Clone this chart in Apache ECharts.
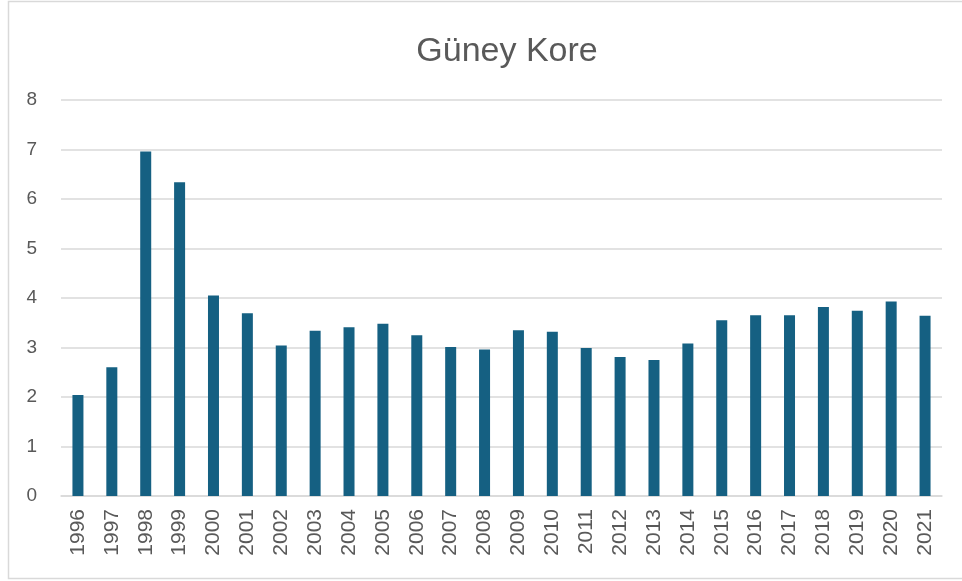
<!DOCTYPE html>
<html>
<head>
<meta charset="utf-8">
<script src="https://cdn.jsdelivr.net/npm/echarts@6/dist/echarts.min.js"></script>
<style>
  html, body { margin: 0; padding: 0; background: #fff; }
  #chart { width: 962px; height: 581px; }
</style>
</head>
<body>
<div id="chart"></div>
<script>
// yıllar
var years = ['1996', '1997', '1998', '1999', '2000', '2001', '2002', '2003', '2004',
  '2005', '2006', '2007', '2008', '2009', '2010', '2011', '2012', '2013', '2014',
  '2015', '2016', '2017', '2018', '2019', '2020', '2021'];
// değerler
var values = [2.04, 2.60, 6.96, 6.34, 4.05, 3.69, 3.04, 3.34, 3.41,
  3.48, 3.25, 3.01, 2.96, 3.35, 3.32, 2.99, 2.81, 2.75, 3.08,
  3.55, 3.65, 3.65, 3.82, 3.74, 3.93, 3.64];
var chartTitle = 'Güney Kore';

var chart = echarts.init(document.getElementById('chart'));
var font = '"Liberation Sans", Arial, sans-serif';

chart.setOption({
  animation: false,
  backgroundColor: '#fff',
  graphic: [{
    type: 'rect',
    shape: { x: 8.5, y: 1.5, width: 1000, height: 577 },
    style: { fill: 'none', stroke: '#d9d9d9', lineWidth: 1.5 },
    silent: true
  }],
  title: {
    text: chartTitle,
    left: 502,
    textAlign: 'center',
    top: 30,
    textStyle: { fontFamily: font, fontSize: 34, fontWeight: 'normal', color: '#595959' }
  },
  grid: { left: 61, right: 20, top: 100, bottom: 85, containLabel: false },
  xAxis: {
    type: 'category',
    data: years,
    axisLine: { lineStyle: { color: '#d9d9d9', width: 1.5 } },
    axisTick: { show: false },
    axisLabel: {
      rotate: 90,
      margin: 13,
      fontFamily: font,
      fontSize: 21,
      color: '#595959'
    }
  },
  yAxis: {
    type: 'value',
    min: 0,
    max: 8,
    interval: 1,
    axisLine: { show: false },
    axisTick: { show: false },
    axisLabel: { margin: 24, fontFamily: font, fontSize: 19, color: '#595959' },
    splitLine: { lineStyle: { color: '#d9d9d9', width: 1.5 } }
  },
  series: [{
    type: 'bar',
    data: values,
    barWidth: 11,
    itemStyle: { color: '#156082' }
  }]
});
</script>
</body>
</html>
